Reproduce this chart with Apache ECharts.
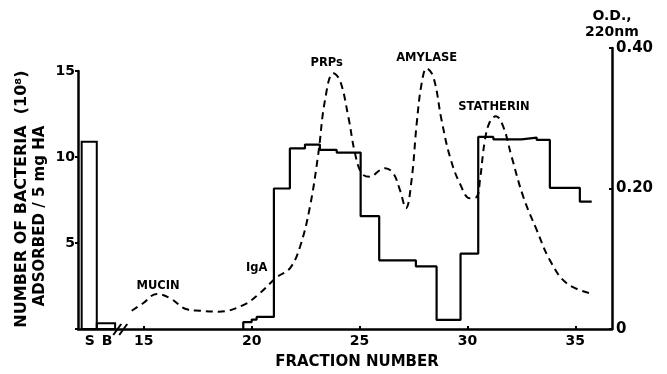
<!DOCTYPE html>
<html><head><meta charset="utf-8">
<script src="https://cdn.jsdelivr.net/npm/echarts@6/dist/echarts.min.js"></script>
<style>html,body{margin:0;padding:0;background:#fff}#c{width:667px;height:374px}</style>
</head><body><div id="c"></div>
<script>
const FONT = '"DejaVu Sans", sans-serif';
// Controls: S (saliva) and B (buffer) bars
const controlEdges = [12.12, 12.82, 13.67];
const controlValues = [10.88, 0.33];
// Bacteria adsorbed per fraction (step histogram), left axis, 10^8
const histEdges = [19.61, 20.0, 20.23, 21.03, 21.77, 22.47, 23.16, 23.94, 25.05, 25.91, 27.61, 28.57, 29.68, 30.5, 31.2, 32.51, 33.21, 33.82, 35.21, 35.76];
const histValues = [0.4, 0.55, 0.7, 8.17, 10.5, 10.72, 10.41, 10.26, 6.56, 3.99, 3.64, 0.53, 4.38, 11.17, 11.03, 11.13, 10.99, 8.21, 7.40];
// O.D. 220 nm elution profile, right axis
const odFraction = [14.44, 14.98, 15.60, 16.21, 16.99, 17.60, 18.45, 19.61, 20.38, 21.16, 21.77, 22.24, 22.70, 23.09, 23.40, 23.78, 24.09, 24.48, 24.79, 25.10, 25.48, 25.95, 26.18, 26.56, 26.87, 27.15, 27.41, 27.65, 27.88, 28.11, 28.42, 28.80, 29.19, 29.65, 30.12, 30.43, 30.58, 30.81, 31.04, 31.32, 31.66, 32.05, 32.59, 33.21, 33.82, 34.60, 35.68];
const odValues = [0.026, 0.037, 0.050, 0.044, 0.028, 0.026, 0.0246, 0.034, 0.051, 0.0736, 0.0864, 0.117, 0.174, 0.250, 0.326, 0.364, 0.354, 0.302, 0.250, 0.2216, 0.2168, 0.2263, 0.2288, 0.2216, 0.198, 0.172, 0.212, 0.293, 0.350, 0.371, 0.359, 0.2975, 0.245, 0.207, 0.186, 0.188, 0.212, 0.269, 0.295, 0.303, 0.288, 0.245, 0.188, 0.141, 0.098, 0.065, 0.051];
// Axis ticks and labels
const xTickValues = [15, 20, 25, 30, 35];
const xLabelValues = [12.5, 13.3, 15, 20, 25, 30, 35];
const xLabelTexts = ['S', 'B', '15', '20', '25', '30', '35'];
const breakAt = [14.0];
// Peak annotations
const annNames = ['MUCIN', 'IgA', 'PRPs', 'AMYLASE', 'STATHERIN'];
const annFraction = [15.66, 20.23, 23.48, 28.11, 31.23];
const annOD = [0.061, 0.087, 0.379, 0.386, 0.316];

const histPts = [[histEdges[0], 0]];
histValues.forEach((v, i) => { histPts.push([histEdges[i], v]); histPts.push([histEdges[i + 1], v]); });
const odPts = odFraction.map((f, i) => [f, odValues[i]]);
const ctrlData = controlValues.map((v, i) => [controlEdges[i], controlEdges[i + 1], v]);
const annData = annNames.map((n, i) => [annFraction[i], annOD[i], n]);

const axisLineStyle = { color: '#000', width: 2.5 };
const chart = echarts.init(document.getElementById('c'));
chart.setOption({
  animation: false,
  backgroundColor: '#fff',
  grid: [
    { left: 78, right: 55, top: 71, bottom: 45 },
    { left: 78, right: 55, top: 48, bottom: 45 }
  ],
  xAxis: [
    {
      gridIndex: 0, type: 'value', min: 11.95, max: 36.7,
      axisLine: { lineStyle: axisLineStyle },
      axisTick: { show: true, inside: true, length: 3, customValues: xTickValues, lineStyle: { color: '#000', width: 2 } },
      axisLabel: {
        customValues: xLabelValues, margin: 5,
        formatter: v => { const i = xLabelValues.findIndex(t => Math.abs(t - v) < 1e-6); return i >= 0 ? xLabelTexts[i] : ''; },
        color: '#000', fontFamily: FONT, fontWeight: 'bold', fontSize: 14
      },
      splitLine: { show: false }
    },
    { gridIndex: 1, type: 'value', min: 11.95, max: 36.7, show: false }
  ],
  yAxis: [
    {
      gridIndex: 0, type: 'value', min: 0, max: 15, interval: 5,
      axisLine: { show: true, lineStyle: axisLineStyle },
      axisTick: { show: true, length: 3, lineStyle: { color: '#000', width: 2 } },
      axisLabel: { margin: 3, formatter: v => v === 0 ? '' : String(v), color: '#000', fontFamily: FONT, fontWeight: 'bold', fontSize: 14 },
      splitLine: { show: false }
    },
    {
      gridIndex: 1, type: 'value', min: 0, max: 0.4, interval: 0.2, position: 'right',
      axisLine: { show: true, lineStyle: axisLineStyle },
      axisTick: { show: true, inside: true, length: 3, lineStyle: { color: '#000', width: 2 } },
      axisLabel: { margin: 4, formatter: v => v === 0 ? '0' : v.toFixed(2), color: '#000', fontFamily: FONT, fontWeight: 'bold', fontSize: 15 },
      splitLine: { show: false },
      name: 'O.D.,\n220nm', nameLocation: 'end', nameGap: 5,
      nameTextStyle: { color: '#000', fontFamily: FONT, fontWeight: 'bold', fontSize: 14, lineHeight: 16, align: 'center', verticalAlign: 'bottom' }
    }
  ],
  graphic: [
    { type: 'text', x: 22, y: 199, rotation: Math.PI / 2, style: { text: 'NUMBER OF BACTERIA  (10⁸)', font: 'bold 16px ' + FONT, fill: '#000', align: 'center', verticalAlign: 'middle' } },
    { type: 'text', x: 40, y: 216, rotation: Math.PI / 2, style: { text: 'ADSORBED / 5 mg HA', font: 'bold 15px ' + FONT, fill: '#000', align: 'center', verticalAlign: 'middle' } },
    { type: 'text', x: 357, y: 362, style: { text: 'FRACTION NUMBER', font: 'bold 15px ' + FONT, fill: '#000', align: 'center', verticalAlign: 'middle' } }
  ],
  series: [
    {
      type: 'custom', xAxisIndex: 0, yAxisIndex: 0, data: ctrlData, encode: { x: [0, 1], y: 2 },
      renderItem: (params, api) => {
        const a = api.coord([api.value(0), 0]);
        const b = api.coord([api.value(1), api.value(2)]);
        return { type: 'rect', shape: { x: a[0], y: b[1], width: b[0] - a[0], height: a[1] - b[1] }, style: { fill: 'none', stroke: '#000', lineWidth: 2 } };
      }
    },
    {
      type: 'custom', xAxisIndex: 0, yAxisIndex: 0, data: breakAt.map(f => [f, 0]), encode: { x: 0, y: 1 }, z: 5,
      renderItem: (params, api) => {
        const p = api.coord([api.value(0), api.value(1)]);
        const mk = dx => ({ type: 'line', shape: { x1: p[0] - 6 + dx, y1: p[1] + 6, x2: p[0] + 2 + dx, y2: p[1] - 5 }, style: { stroke: '#000', lineWidth: 2 } });
        return { type: 'group', children: [mk(-3), mk(3)] };
      }
    },
    {
      type: 'line', xAxisIndex: 0, yAxisIndex: 0, data: histPts, symbol: 'none',
      lineStyle: { color: '#000', width: 2.2 }
    },
    {
      type: 'line', xAxisIndex: 1, yAxisIndex: 1, data: odPts, symbol: 'none', smooth: 0.4,
      lineStyle: { color: '#000', width: 2, type: [7, 5] }
    },
    {
      type: 'scatter', xAxisIndex: 1, yAxisIndex: 1, data: annData, symbolSize: 1,
      itemStyle: { color: 'rgba(0,0,0,0)', opacity: 1 },
      label: { show: true, position: 'inside', formatter: p => p.data[2], color: '#000', opacity: 1, fontFamily: FONT, fontWeight: 'bold', fontSize: 11.5 }
    }
  ]
});
</script></body></html>
